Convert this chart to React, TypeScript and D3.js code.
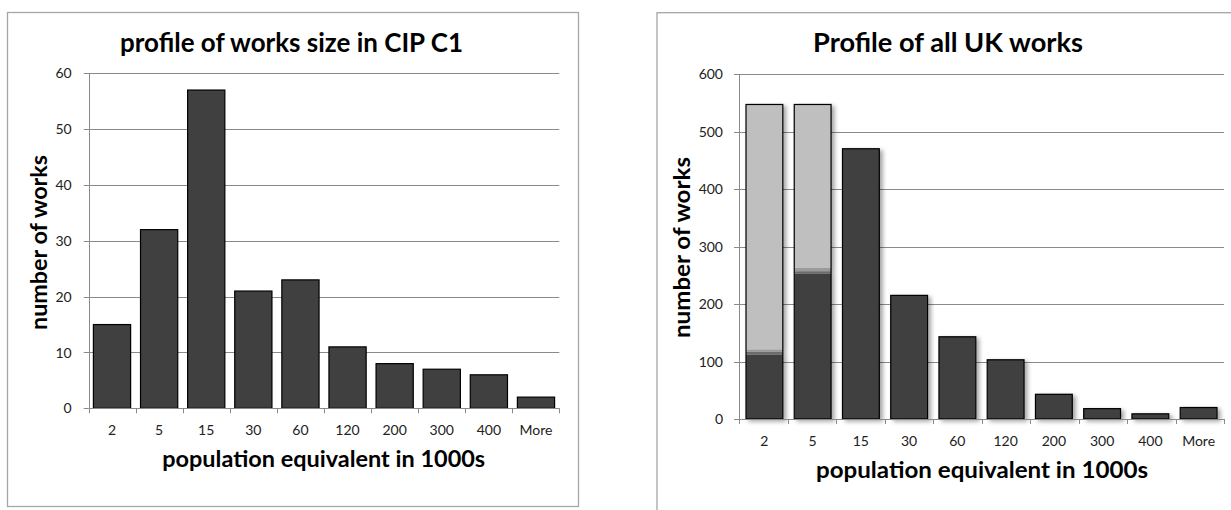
import React from 'react';
import * as d3 from 'd3';

const categories = ['2', '5', '15', '30', '60', '120', '200', '300', '400', 'More'];
const cipCounts = [15, 32, 57, 21, 23, 11, 8, 7, 6, 2];
const ukDark = [112, 253, 470, 215, 143, 103, 43, 18, 9, 20];
const ukBandA = [5, 4, 0, 0, 0, 0, 0, 0, 0, 0];
const ukBandB = [4, 6, 0, 0, 0, 0, 0, 0, 0, 0];
const ukLight = [426, 284, 0, 0, 0, 0, 0, 0, 0, 0];
const leftTicks = [0, 10, 20, 30, 40, 50, 60];
const rightTicks = [0, 100, 200, 300, 400, 500, 600];

const FONT = 'Lato, "Noto Sans", sans-serif';
const GRID = '#8a8a8a';
const FRAME = '#a6a6a6';

type Layer = { values: number[]; color: string };

type ChartProps = {
  frame: { x: number; y: number; w: number; h: number };
  px0: number; px1: number; py0: number; py1: number;
  yMax: number; ticks: number[];
  layers: Layer[];
  padInner: number; padOuter: number;
  title: string; titleX: number; titleY: number; titleLen: number;
  xTitle: string; xTitleX: number; xTitleY: number; xTitleLen: number;
  yTitle: string; yTitleX: number; yTitleY: number; yTitleLen: number;
  tickLabelY: number; yLabelRight: number;
  shadow?: string;
};

function Chart(p: ChartProps) {
  const x = d3.scaleBand<string>().domain(categories).range([p.px0, p.px1])
    .paddingInner(p.padInner).paddingOuter(p.padOuter);
  const y = d3.scaleLinear().domain([0, p.yMax]).range([p.py0, p.py1]);
  const stackData = categories.map((c, i) => {
    const o: any = { cat: c };
    p.layers.forEach((l, j) => { o['s' + j] = l.values[i]; });
    return o;
  });
  const keys = p.layers.map((_, j) => 's' + j);
  const stacked = d3.stack().keys(keys)(stackData);
  const totals = categories.map((_, i) => d3.sum(p.layers, l => l.values[i]));
  const step = (p.px1 - p.px0) / categories.length;
  const boundaries = d3.range(categories.length + 1).map(i => p.px0 + i * step);
  const r = (v: number) => Math.round(v) + 0.5;
  return (
    <g>
      <rect x={p.frame.x} y={p.frame.y} width={p.frame.w} height={p.frame.h}
        fill="#fff" stroke={FRAME} strokeWidth={1.3} />
      {p.ticks.map(t => (
        <g key={t}>
          {t > 0 && <line x1={p.px0 - 5} x2={p.px1} y1={r(y(t))} y2={r(y(t))} stroke={GRID} strokeWidth={1} />}
          {t === 0 && <line x1={p.px0 - 5} x2={p.px0} y1={r(y(t))} y2={r(y(t))} stroke={GRID} strokeWidth={1} />}
          <text x={p.yLabelRight} y={y(t)} dy="0.36em" textAnchor="end" fontSize={14}
            fill="#222" fontFamily={FONT}>{t}</text>
        </g>
      ))}
      <g filter={p.shadow ? `url(#${p.shadow})` : undefined}>
        {categories.map((c, i) => (
          <g key={c}>
            {stacked.map((s, j) => {
              const d = s[i];
              if (d[1] - d[0] <= 0) return null;
              return <rect key={j} x={x(c)} width={x.bandwidth()} y={y(d[1])}
                height={y(d[0]) - y(d[1])} fill={p.layers[j].color} />;
            })}
            <rect x={x(c)} width={x.bandwidth()} y={y(totals[i])} height={y(0) - y(totals[i])}
              fill="none" stroke="#000" strokeWidth={1.2} />
          </g>
        ))}
      </g>
      <line x1={r(p.px0)} x2={r(p.px0)} y1={p.py1} y2={p.py0} stroke={GRID} strokeWidth={1} />
      <line x1={p.px0} x2={p.px1} y1={r(p.py0)} y2={r(p.py0)} stroke={GRID} strokeWidth={1} />
      {boundaries.map((b, i) => (
        <line key={i} x1={r(b)} x2={r(b)} y1={p.py0} y2={p.py0 + 5} stroke={GRID} strokeWidth={1} />
      ))}
      {categories.map(c => (
        <text key={c} x={(x(c) as number) + x.bandwidth() / 2} y={p.tickLabelY} textAnchor="middle"
          fontSize={14} fill="#222" fontFamily={FONT}>{c}</text>
      ))}
      <text x={p.titleX} y={p.titleY} textAnchor="middle" fontSize={26} fontWeight="bold"
        fontFamily={FONT} fill="#000" textLength={p.titleLen} lengthAdjust="spacingAndGlyphs">{p.title}</text>
      <text x={p.xTitleX} y={p.xTitleY} textAnchor="middle" fontSize={22} fontWeight="bold"
        fontFamily={FONT} fill="#000" textLength={p.xTitleLen} lengthAdjust="spacingAndGlyphs">{p.xTitle}</text>
      <text transform={`translate(${p.yTitleX},${p.yTitleY}) rotate(-90)`} textAnchor="middle" fontSize={22}
        fontWeight="bold" fontFamily={FONT} fill="#000" textLength={p.yTitleLen}
        lengthAdjust="spacingAndGlyphs">{p.yTitle}</text>
    </g>
  );
}

export default function App() {
  return (
    <svg width={1231} height={510} style={{ position: 'absolute', left: 0, top: 0, background: '#fff' }}>
      <defs>
        <filter id="barShadow" x="-20%" y="-5%" width="150%" height="115%">
          <feDropShadow dx={3} dy={2} stdDeviation={2} floodColor="#000" floodOpacity={0.35} />
        </filter>
      </defs>
      <rect x={0} y={0} width={1231} height={510} fill="#fff" />
      <Chart
        frame={{ x: 7.5, y: 12.5, w: 571, h: 494 }}
        px0={88.7} px1={559.3} py0={408.3} py1={73.3}
        yMax={60} ticks={leftTicks}
        layers={[{ values: cipCounts, color: '#404040' }]}
        padInner={0.21} padOuter={0.1}
        title="profile of works size in CIP C1" titleX={291.5} titleY={52} titleLen={343}
        xTitle="population  equivalent in 1000s" xTitleX={323.7} xTitleY={467} xTitleLen={323}
        yTitle="number of works" yTitleX={46.7} yTitleY={242.5} yTitleLen={175}
        tickLabelY={435} yLabelRight={71.7}
      />
      <Chart
        frame={{ x: 657, y: 12.7, w: 700, h: 600 }}
        px0={739} px1={1224} py0={419} py1={74}
        yMax={600} ticks={rightTicks}
        layers={[
          { values: ukDark, color: '#404040' },
          { values: ukBandA, color: '#6c6c6c' },
          { values: ukBandB, color: '#9a9a9a' },
          { values: ukLight, color: '#bfbfbf' },
        ]}
        padInner={0.237} padOuter={0.145}
        title="Profile of all UK works" titleX={948} titleY={52} titleLen={270}
        xTitle="population  equivalent in 1000s" xTitleX={982} xTitleY={478} xTitleLen={332}
        yTitle="number of works" yTitleX={690} yTitleY={247.5} yTitleLen={181}
        tickLabelY={446} yLabelRight={723}
        shadow="barShadow"
      />
    </svg>
  );
}
